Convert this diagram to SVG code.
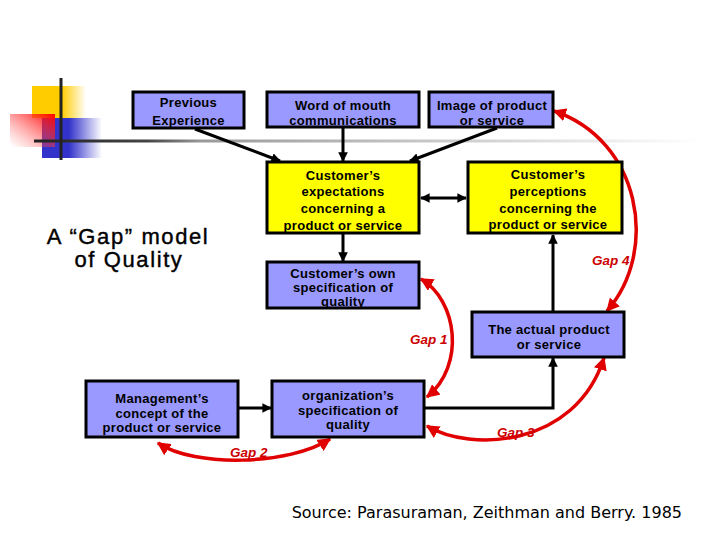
<svg xmlns="http://www.w3.org/2000/svg" width="720" height="540" viewBox="0 0 720 540">
<defs>
<linearGradient id="gy" x1="0" y1="0" x2="1" y2="0"><stop offset="0" stop-color="#FFCC00"/><stop offset="0.55" stop-color="#FFCC00"/><stop offset="1" stop-color="#FFCC00" stop-opacity="0"/></linearGradient>
<linearGradient id="gr" x1="1" y1="0" x2="0" y2="1"><stop offset="0" stop-color="#FF0000"/><stop offset="0.9" stop-color="#FF6666" stop-opacity="0.1"/><stop offset="1" stop-color="#FFFFFF" stop-opacity="0"/></linearGradient>
<linearGradient id="gb" x1="0" y1="0" x2="1" y2="0"><stop offset="0" stop-color="#3333CC"/><stop offset="0.45" stop-color="#3333CC"/><stop offset="1" stop-color="#3333CC" stop-opacity="0"/></linearGradient>
<linearGradient id="gl" gradientUnits="userSpaceOnUse" x1="34" y1="0" x2="700" y2="0"><stop offset="0" stop-color="#222"/><stop offset="0.17" stop-color="#444"/><stop offset="0.25" stop-color="#999"/><stop offset="1" stop-color="#FFFFFF"/></linearGradient>
<marker id="ah" viewBox="0 0 10 10" refX="9" refY="5" markerWidth="3.2" markerHeight="3.2" orient="auto-start-reverse"><path d="M0,0 L10,5 L0,10 z" fill="#000"/></marker>
<marker id="rh" viewBox="0 0 10 10" refX="9" refY="5" markerWidth="3.8" markerHeight="3.8" orient="auto-start-reverse"><path d="M0,0 L10,5 L0,10 z" fill="#E00000"/></marker>
</defs>
<style>
.b{fill:#9999FF;stroke:#000;stroke-width:3}
.y{fill:#FFFF00;stroke:#000;stroke-width:3}
.t{font-family:"Liberation Sans",Arial,sans-serif;font-weight:bold;font-size:13px;text-anchor:middle;fill:#000;letter-spacing:0.3px}
.c{fill:none;stroke:#000;stroke-width:3}
.r{fill:none;stroke:#E00000;stroke-width:3.5}
.g{font-family:"Liberation Sans",Arial,sans-serif;font-weight:bold;font-style:italic;font-size:13.5px;fill:#CC0000}
.h{font-family:"Liberation Sans",Arial,sans-serif;font-size:22px;text-anchor:middle;letter-spacing:1.6px;fill:#000;stroke:#000;stroke-width:0.4}
</style>
<g id="decor">
<rect x="32" y="86" width="54" height="32" fill="url(#gy)"/>
<rect x="42" y="118" width="60" height="40" fill="url(#gb)"/>
<rect x="10" y="114" width="45" height="33" fill="url(#gr)"/>
<rect x="34" y="139.5" width="666" height="3" fill="url(#gl)"/>
<rect x="59.5" y="78" width="3" height="82" fill="#222"/>
</g>
<g id="title">
<text class="h" x="128" y="244">A “Gap” model</text>
<text class="h" x="129" y="267">of Quality</text>
</g>
<g id="connectors">
<line class="c" x1="195" y1="129" x2="280" y2="161" marker-end="url(#ah)"/>
<line class="c" x1="343" y1="128" x2="343" y2="161" marker-end="url(#ah)"/>
<line class="c" x1="497" y1="128" x2="410" y2="161" marker-end="url(#ah)"/>
<line class="c" x1="421" y1="198" x2="466" y2="198" marker-start="url(#ah)" marker-end="url(#ah)"/>
<line class="c" x1="343" y1="234" x2="343" y2="261" marker-end="url(#ah)"/>
<line class="c" x1="553" y1="311" x2="553" y2="235" marker-end="url(#ah)"/>
<line class="c" x1="239" y1="408" x2="271" y2="408" marker-end="url(#ah)"/>
<polyline class="c" points="425,408 553,408 553,358" marker-end="url(#ah)"/>
<path class="r" d="M421,279 C457,300 466,365 427,397" marker-start="url(#rh)" marker-end="url(#rh)"/>
<path class="r" d="M158,443 C195,468 290,465 330,439" marker-start="url(#rh)" marker-end="url(#rh)"/>
<path class="r" d="M427,426 C470,452 575,448 604,358" marker-start="url(#rh)" marker-end="url(#rh)"/>
<path class="r" d="M554,111 C640,140 660,250 607,311" marker-start="url(#rh)" marker-end="url(#rh)"/>
<text class="g" x="410" y="344">Gap 1</text>
<text class="g" x="230" y="457">Gap 2</text>
<text class="g" x="497" y="437">Gap 3</text>
<text class="g" x="592" y="265">Gap 4</text>
</g>
<g id="prev"><rect class="b" x="133" y="92" width="111" height="36"/><text class="t" x="188.5" y="107">Previous</text><text class="t" x="188.5" y="125">Experience</text></g>
<g id="wom"><rect class="b" x="267" y="92" width="152" height="35"/><text class="t" x="343" y="110">Word of mouth</text><text class="t" x="343" y="125">communications</text></g>
<g id="image"><rect class="b" x="429" y="92" width="124" height="35"/><text class="t" x="492" y="110">Image of product</text><text class="t" x="492" y="125">or service</text></g>
<g id="expect"><rect class="y" x="267" y="162" width="152" height="71"/><text class="t" x="343" y="180">Customer’s</text><text class="t" x="343" y="196">expectations</text><text class="t" x="343" y="213">concerning a</text><text class="t" x="343" y="230">product or service</text></g>
<g id="percep"><rect class="y" x="468" y="162" width="154" height="71"/><text class="t" x="548" y="179">Customer’s</text><text class="t" x="548" y="196">perceptions</text><text class="t" x="548" y="213">concerning the</text><text class="t" x="548" y="229">product or service</text></g>
<g id="ownspec"><rect class="b" x="267" y="262" width="152" height="46"/><text class="t" x="343" y="278">Customer’s own</text><text class="t" x="343" y="292">specification of</text><text class="t" x="343" y="306">quality</text></g>
<g id="actual"><rect class="b" x="472" y="312" width="152" height="45"/><text class="t" x="549" y="334">The actual product</text><text class="t" x="549" y="349">or service</text></g>
<g id="mgmt"><rect class="b" x="86" y="381" width="152" height="56"/><text class="t" x="162" y="403">Management’s</text><text class="t" x="162" y="418">concept of the</text><text class="t" x="162" y="432">product or service</text></g>
<g id="org"><rect class="b" x="272" y="381" width="152" height="56"/><text class="t" x="348" y="400">organization’s</text><text class="t" x="348" y="415">specification of</text><text class="t" x="348" y="429">quality</text></g>
<text x="682" y="518" font-family="DejaVu Sans,Verdana,sans-serif" font-size="16" text-anchor="end">Source: Parasuraman, Zeithman and Berry. 1985</text>
</svg>
